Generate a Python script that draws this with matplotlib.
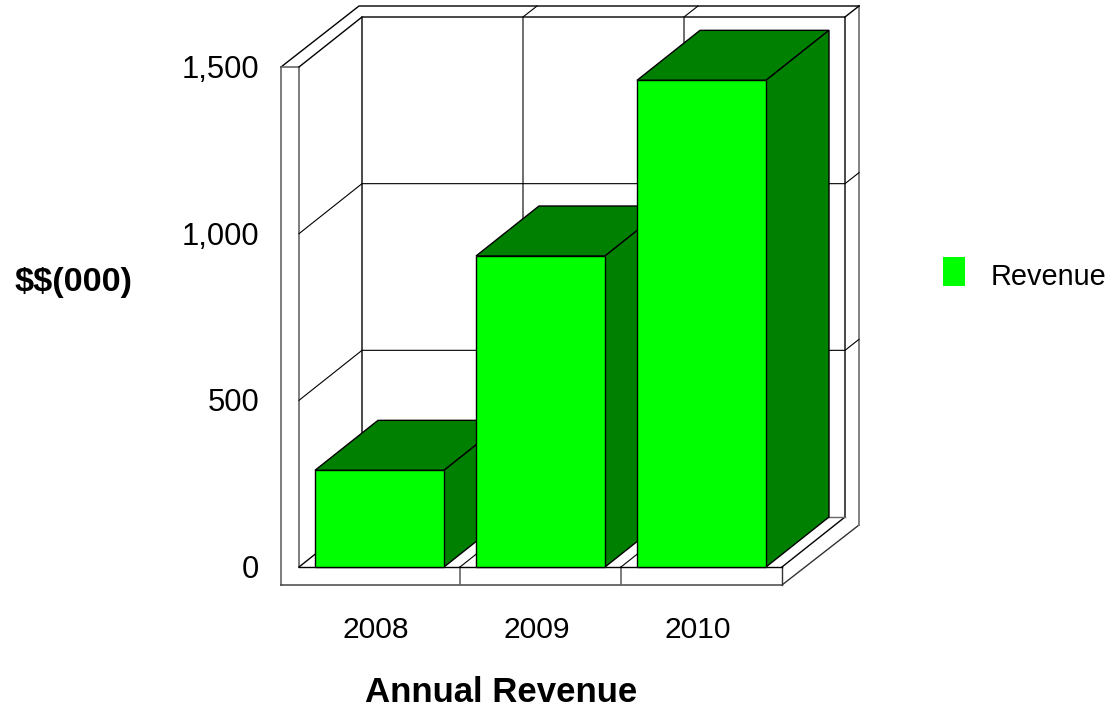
import matplotlib.pyplot as plt
from matplotlib.legend_handler import HandlerPatch
from matplotlib.patches import Polygon, Rectangle

years = ["2008", "2009", "2010"]
revenue = [290, 933, 1460]
value_ticks = [0, 500, 1000, 1500]
tick_labels = ["0", "500", "1,000", "1,500"]

plt.rcParams["font.family"] = ["Liberation Sans", "DejaVu Sans"]

W, H = 1113, 711
X0, CAT_W = 299, 161     # pixel x of the front plane start, width of one category
Y0, PX_PER_VAL = 567, 500 / 1500

fig = plt.figure(figsize=(W / 100, H / 100), dpi=100)
ax = fig.add_axes([0, 0, 1, 1])
ax.set_xlim(-X0 / CAT_W, (W - X0) / CAT_W)
ax.set_ylim(-(H - Y0) / PX_PER_VAL, Y0 / PX_PER_VAL)
ax.axis("off")

n = len(years)
top = value_ticks[-1]
# depth of the 3d box in data units
dx = 63 / CAT_W
dy = 50 / PX_PER_VAL
# thickness of the outer frame
sx = 18 / CAT_W
sy = 18 / PX_PER_VAL
ox = 14 / CAT_W
oy = 11 / PX_PER_VAL
right = n + dx + ox
upper = top + dy + oy


def line(xs, ys, color="black", lw=1.0):
    ax.plot(xs, ys, color=color, lw=lw, solid_capstyle="projecting", zorder=2)


# Outer frame
line([-sx, -sx], [top, -sy], color="#666666", lw=1.2)
line([-sx, n, right], [-sy, -sy, 42 / PX_PER_VAL], color="#333333")
line([right, right], [42 / PX_PER_VAL, upper], color="#777777", lw=1.3)
line([right, -sx + 78 / CAT_W, -sx], [upper, upper, top])
line([-sx, 0, 0], [top, top, 0], color="#666666", lw=1.2)
line([n, n], [-sy, 0], color="#333333")
for i in range(1, n):
    line([i, i], [-sy, 0], color="#666666", lw=1.2)

# Walls and floor
line([0, n], [0, 0])
line([0, dx, n + dx, n + dx, n], [top, top + dy, top + dy, dy, 0])
line([0, dx, dx], [0, dy, top + dy])
line([dx, n + dx], [dy, dy], color="#666666")

# Grid
for v in value_ticks[1:-1]:
    line([0, dx, n + dx, right], [v, v + dy, v + dy, v + dy + oy], lw=0.8)
for i in range(1, n):
    line([i, i + dx, i + dx, i + dx + ox], [0, dy, top + dy, upper], lw=0.8)
line([n + dx, right], [top + dy, upper])

# Bars, left to right so that each one hides part of the previous one
bar_w = 129 / CAT_W
front = "#00ff00"
dark = "#008000"
for i, val in enumerate(revenue):
    l = i + 0.5 - bar_w / 2
    r = l + bar_w
    ax.add_patch(Polygon([(l, val), (r, val), (r + dx, val + dy), (l + dx, val + dy)],
                         facecolor=dark, edgecolor="black", lw=1, zorder=3 + i))
    ax.add_patch(Polygon([(r, 0), (r + dx, dy), (r + dx, val + dy), (r, val)],
                         facecolor=dark, edgecolor="black", lw=1, zorder=3 + i))
    ax.bar(i + 0.5, val, width=bar_w, color=front, edgecolor="black", lw=1, zorder=3 + i)

# Tick labels
for v, lab in zip(value_ticks, tick_labels):
    ax.text(-sx - 22 / CAT_W, v - 3 / PX_PER_VAL, lab, ha="right", va="center", fontsize=22.2)
for i, y in enumerate(years):
    ax.text(i + 0.5 - 4 / CAT_W, -63 / PX_PER_VAL, y, ha="center", va="center", fontsize=21.6)

ax.text((73.5 - X0) / CAT_W, (Y0 - 283) / PX_PER_VAL, "$$(000)", ha="center", va="center",
        fontsize=24.6, fontweight="bold", parse_math=False)
ax.text((501.5 - X0) / CAT_W, (Y0 - 693) / PX_PER_VAL, "Annual Revenue", ha="center", va="center",
        fontsize=25, fontweight="bold")


# Legend, the swatch sits a little above the text in the original
def raised_swatch(legend, orig_handle, xdescent, ydescent, width, height, fontsize):
    return Rectangle((-xdescent, -ydescent + 2.5), width, height)


handle = Rectangle((0, 0), 1, 1, facecolor=front, edgecolor="none")
ax.legend([handle], ["Revenue"], loc="center left", bbox_to_anchor=(940 / W, 1 - 276 / H),
          frameon=False, fontsize=20.8, handlelength=0.76, handleheight=1.15,
          handletextpad=0.9, borderpad=0.1, borderaxespad=0,
          handler_map={Rectangle: HandlerPatch(patch_func=raised_swatch)})

fig.savefig("out.png", dpi=100)
